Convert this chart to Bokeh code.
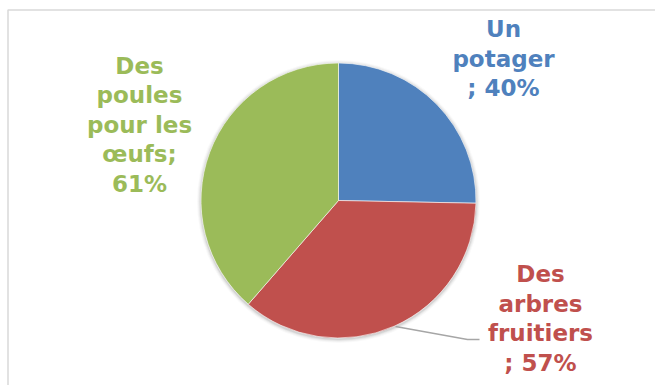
import numpy as np
from bokeh.plotting import figure
from bokeh.models import ColumnDataSource, Range1d
from bokeh.core.properties import value
from bokeh.embed import file_html
from bokeh.resources import INLINE

# ---- data ----
categories = ["Un potager", "Des arbres fruitiers", "Des poules pour les œufs"]
values = [40, 57, 61]
label_lines = [
    ["Un", "potager", "; 40%"],
    ["Des", "arbres", "fruitiers", "; 57%"],
    ["Des", "poules", "pour les", "œufs;", "61%"],
]
colors = ["#4F81BD", "#C0504D", "#9BBB59"]

# ---- layout (pixels, top-left origin) ----
W, H = 655, 385
cx, cy, R = 338, 200, 137.5
label_centers = [(503, 58), (540, 318), (139, 124)]
line_step = 29.5
font_size = "23px"

def Y(y):
    return H - y

p = figure(width=W, height=H, output_backend="svg", toolbar_location=None,
           x_axis_type=None, y_axis_type=None, min_border=0,
           x_range=Range1d(0, W), y_range=Range1d(0, H))
p.grid.visible = False
p.outline_line_color = None
p.background_fill_color = "white"
p.border_fill_color = "white"

# chart frame
p.quad(left=[7.5], right=[W + 20], top=[Y(9.5)], bottom=[-20],
       fill_color=None, line_color="#D9D9D9", line_width=1.5)

# soft shadow
for k, a in [(4, 0.025), (3, 0.035), (2, 0.05), (1, 0.07)]:
    p.circle(x=[cx], y=[Y(cy + 1)], radius=R + k, fill_color="#000000",
             fill_alpha=a, line_color=None)

# wedges
vals = np.array(values, dtype=float)
frac = vals / vals.sum()
ends = np.cumsum(frac)
starts = ends - frac
src = ColumnDataSource(dict(
    cat=categories,
    start=np.pi / 2 - starts * 2 * np.pi,
    end=np.pi / 2 - ends * 2 * np.pi,
    color=colors,
))
p.wedge(x=cx, y=Y(cy), radius=R, start_angle="start", end_angle="end",
        direction="clock", fill_color="color", line_color="white",
        line_width=0.6, source=src)

# leader line for the red label
p.line(x=[395, 467, 479], y=[Y(326), Y(339), Y(339)],
       line_color="#A6A6A6", line_width=1.3)

# labels
xs, ys, ts, cs = [], [], [], []
for lines, (lx, ly), col in zip(label_lines, label_centers, colors):
    n = len(lines)
    for i, t in enumerate(lines):
        xs.append(lx)
        ys.append(Y(ly + (i - (n - 1) / 2) * line_step))
        ts.append(t)
        cs.append(col)
p.text(x=xs, y=ys, text=ts, text_color=cs, text_align="center",
       text_baseline="middle", text_font=value("DejaVu Sans"),
       text_font_style="bold", text_font_size=font_size)

open("out.html", "w").write(file_html(p, INLINE))
